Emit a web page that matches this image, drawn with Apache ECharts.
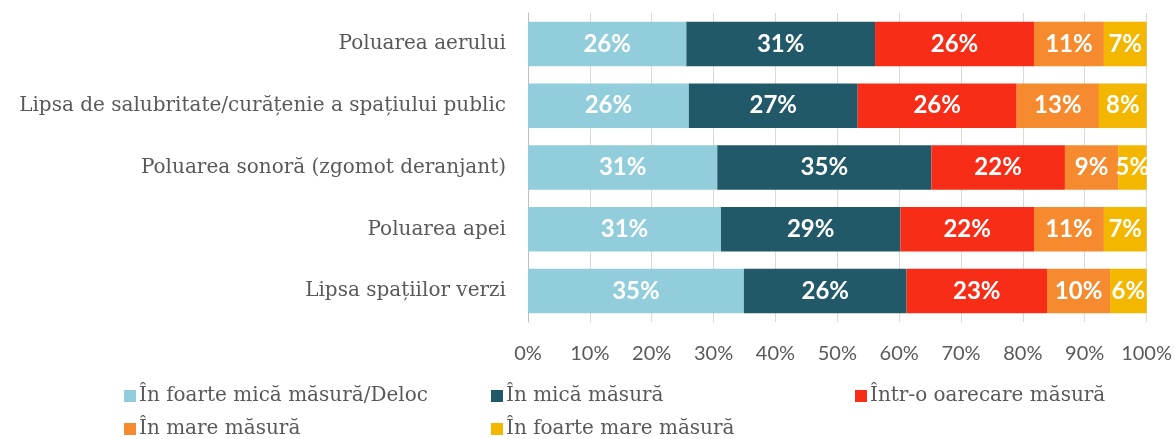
<!DOCTYPE html>
<html>
<head>
<meta charset="utf-8">
<script src="https://cdn.jsdelivr.net/npm/echarts@6/dist/echarts.min.js"></script>
<style>
  html, body { margin: 0; padding: 0; background: #fff; }
  #chart { width: 1175px; height: 439px; }
</style>
</head>
<body>
<div id="chart"></div>
<script>
// categorii (de sus in jos)
var categories = [
  'Poluarea aerului',
  'Lipsa de salubritate/curățenie a spațiului public',
  'Poluarea sonoră (zgomot deranjant)',
  'Poluarea apei',
  'Lipsa spațiilor verzi'
];
var seriesNames = [
  'În foarte mică măsură/Deloc',
  'În mică măsură',
  'Într-o oarecare măsură',
  'În mare măsură',
  'În foarte mare măsură'
];
// procente
var foarteMica = [25.6, 26.0, 30.6, 31.2, 34.9];
var mica       = [30.5, 27.3, 34.6, 29.0, 26.3];
var oarecare   = [25.7, 25.7, 21.6, 21.6, 22.7];
var mare       = [11.3, 13.3, 8.6, 11.3, 10.2];
var foarteMare = [6.9, 7.7, 4.6, 6.9, 5.9];
var xTicks = [0, 10, 20, 30, 40, 50, 60, 70, 80, 90, 100];
var colors = ['#92CDDC', '#215968', '#F72D18', '#F58A2E', '#F3B700'];

var allData = [foarteMica, mica, oarecare, mare, foarteMare];

var myChart = echarts.init(document.getElementById('chart'));

var series = allData.map(function (d, i) {
  return {
    name: seriesNames[i],
    type: 'bar',
    stack: 'total',
    barWidth: '72%',
    data: d,
    itemStyle: { color: colors[i] },
    label: {
      show: true,
      position: 'inside',
      color: '#fff',
      fontFamily: 'Lato',
      fontWeight: 'bold',
      fontSize: 24,
      formatter: function (p) { return Math.round(p.value) + '%'; }
    }
  };
});

// o legenda pentru fiecare element, ca in original (3 coloane)
var legendPos = [[124, 386], [491, 386], [855, 386], [124, 419], [491, 419]];
var legends = seriesNames.map(function (n, i) {
  return {
    left: legendPos[i][0],
    top: legendPos[i][1],
    padding: 0,
    itemWidth: 12,
    itemHeight: 12,
    itemGap: 0,
    icon: 'rect',
    data: [n],
    selectedMode: false,
    textStyle: { fontFamily: 'DejaVu Serif', fontSize: 20, color: '#595959', padding: [0, 0, 0, -2] }
  };
});

var option = {
  animation: false,
  grid: { left: 528, right: 28, top: 13, bottom: 117 },
  legend: legends,
  xAxis: {
    type: 'value',
    min: xTicks[0],
    max: xTicks[xTicks.length - 1],
    interval: 10,
    axisLine: { show: false },
    axisTick: { show: false },
    splitLine: { lineStyle: { color: '#D9D9D9' } },
    axisLabel: {
      margin: 22,
      color: '#595959',
      fontFamily: 'Lato',
      fontSize: 20,
      formatter: '{value}%'
    }
  },
  yAxis: {
    type: 'category',
    inverse: true,
    data: categories,
    axisLine: { lineStyle: { color: '#BFBFBF' } },
    axisTick: { show: false },
    axisLabel: {
      margin: 22,
      color: '#595959',
      fontFamily: 'DejaVu Serif',
      fontSize: 20
    }
  },
  series: series
};
myChart.setOption(option);
</script>
</body>
</html>
